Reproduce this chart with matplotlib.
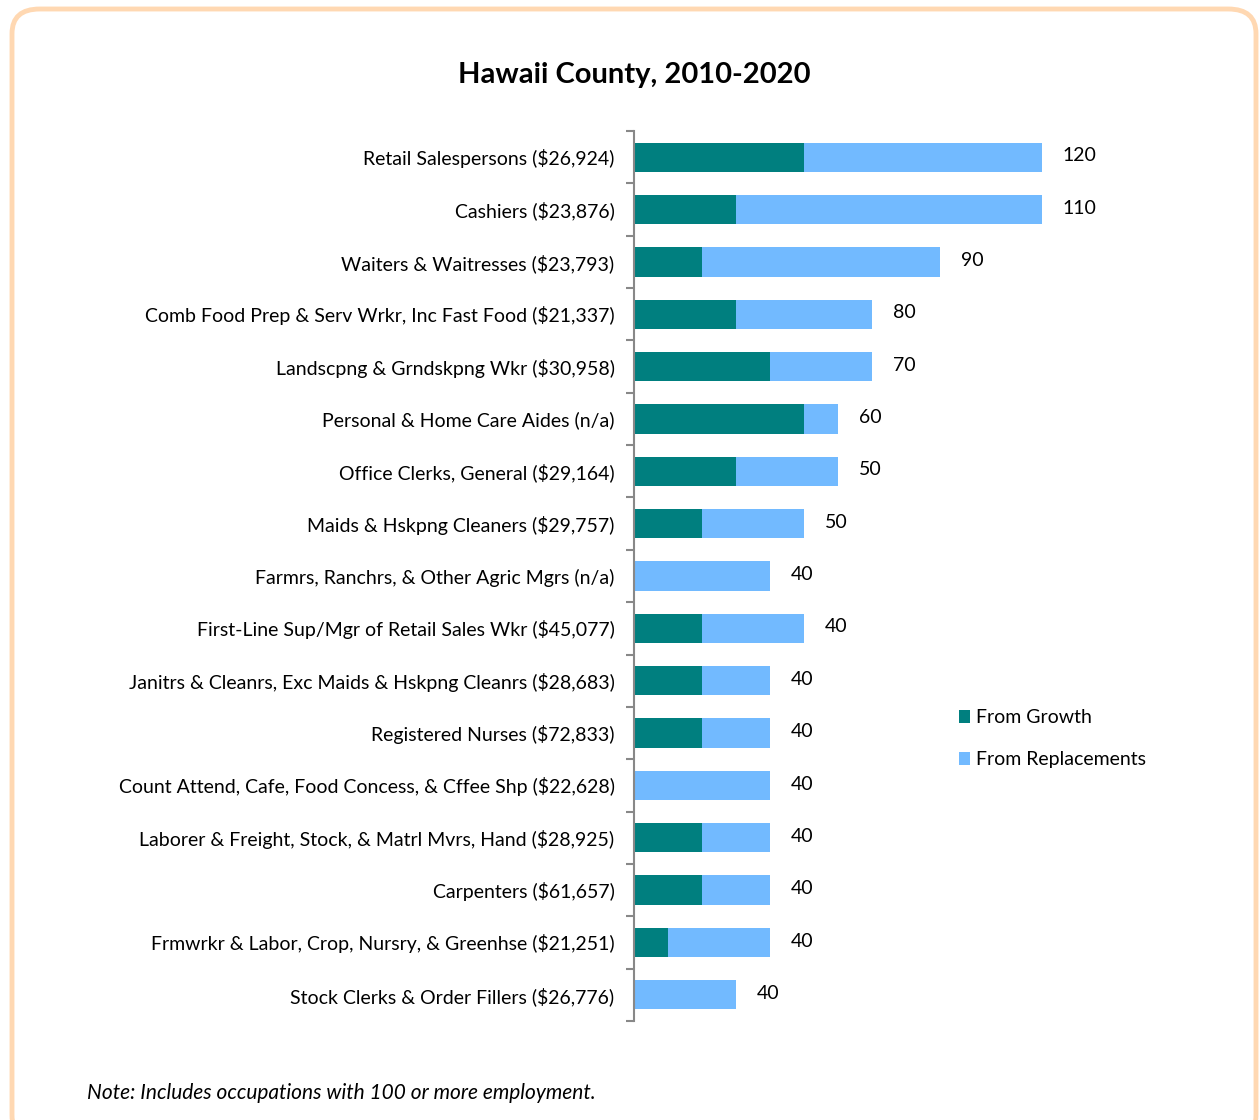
import numpy as np
from matplotlib import pyplot as plt
from matplotlib.patches import FancyBboxPatch

occupations = [
    'Retail Salespersons ($26,924)',
    'Cashiers ($23,876)',
    'Waiters & Waitresses ($23,793)',
    'Comb Food Prep & Serv Wrkr, Inc Fast Food ($21,337)',
    'Landscpng & Grndskpng Wkr ($30,958)',
    'Personal & Home Care Aides (n/a)',
    'Office Clerks, General ($29,164)',
    'Maids & Hskpng Cleaners ($29,757)',
    'Farmrs, Ranchrs, & Other Agric Mgrs (n/a)',
    'First-Line Sup/Mgr of Retail Sales Wkr ($45,077)',
    'Janitrs & Cleanrs, Exc Maids & Hskpng Cleanrs ($28,683)',
    'Registered Nurses ($72,833)',
    'Count Attend, Cafe, Food Concess, & Cffee Shp ($22,628)',
    'Laborer & Freight, Stock, & Matrl Mvrs, Hand ($28,925)',
    'Carpenters ($61,657)',
    'Frmwrkr & Labor, Crop, Nursry, & Greenhse ($21,251)',
    'Stock Clerks & Order Fillers ($26,776)',
]
growth = [50, 30, 20, 30, 40, 50, 30, 20, 0, 20, 20, 20, 0, 20, 20, 10, 0]
replacements = [70, 90, 70, 40, 30, 10, 30, 30, 40, 30, 20, 20, 40, 20, 20, 30, 30]
totals = [120, 110, 90, 80, 70, 60, 50, 50, 40, 40, 40, 40, 40, 40, 40, 40, 40]

teal = '#007F7F'
light_blue = '#72BAFF'
font = 'Lato'

plt.rcParams['font.family'] = [font, 'DejaVu Sans']

fig = plt.figure(figsize=(12.6, 11.2), dpi=100)

# rounded frame around the whole chart
frame = FancyBboxPatch((12 / 1260, -20 / 1120), 1244 / 1260, 1131 / 1120,
                       boxstyle='round,pad=0,rounding_size=0.022',
                       transform=fig.transFigure, facecolor='white',
                       edgecolor='#FFD8B2', linewidth=3.5, zorder=-1)
fig.patches.append(frame)

ax = fig.add_axes([634 / 1260, (1120 - 1021) / 1120, 476 / 1260, 890 / 1120])

y = np.arange(len(occupations))
ax.barh(y, growth, height=0.56, color=teal, label='From Growth')
ax.barh(y, replacements, left=growth, height=0.56, color=light_blue,
        label='From Replacements')

# total labels to the right of each bar
bar_ends = np.array(growth) + np.array(replacements)
for yi, end, tot in zip(y, bar_ends, totals):
    ax.annotate(str(tot), (end, yi), xytext=(15, 1), textcoords='offset points',
                ha='left', va='center', fontsize=14)

ax.set_xlim(0, 140)
ax.set_ylim(len(occupations) - 0.5, -0.5)
ax.set_yticks(y)
ax.set_yticklabels(occupations, fontsize=14)
ax.set_yticks(np.arange(len(occupations) + 1) - 0.5, minor=True)
ax.tick_params(axis='y', which='major', length=0, pad=14)
ax.tick_params(axis='y', which='minor', length=6, width=1.5, color='#888888')
ax.set_xticks([])
for s in ['top', 'right', 'bottom']:
    ax.spines[s].set_visible(False)
ax.spines['left'].set_color('#888888')
ax.spines['left'].set_linewidth(1.5)

ax.legend(loc='upper left', bbox_to_anchor=(0.645, 0.37), frameon=False,
          fontsize=14, handlelength=0.6, handleheight=0.6,
          handletextpad=0.3, labelspacing=1.3)

fig.text(634 / 1260, 1 - 75 / 1120, 'Hawaii County, 2010-2020', ha='center',
         va='center', fontsize=21, fontweight='bold')
fig.text(87 / 1260, 1 - 1093 / 1120,
         'Note: Includes occupations with 100 or more employment.',
         ha='left', va='center', fontsize=15, style='italic')

fig.savefig('out.png', dpi=100)
